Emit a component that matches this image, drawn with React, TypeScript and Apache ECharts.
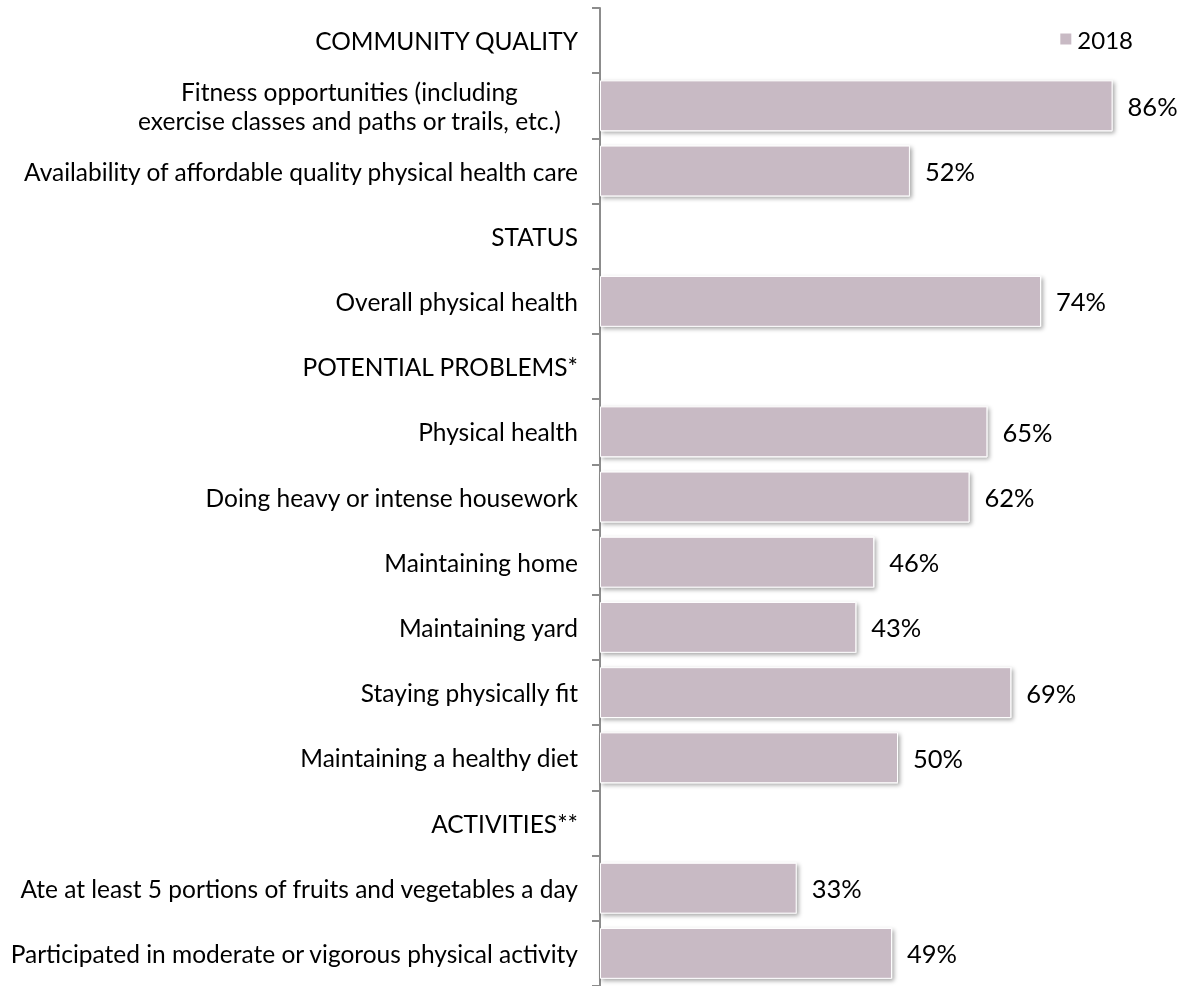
import React, { useEffect, useRef } from "react";
import * as echarts from "echarts";

const categories: string[] = [
  "COMMUNITY QUALITY",
  "Fitness opportunities (including\nexercise classes and paths or trails, etc.)",
  "Availability of affordable quality physical health care",
  "STATUS",
  "Overall physical health",
  "POTENTIAL PROBLEMS*",
  "Physical health",
  "Doing heavy or intense housework",
  "Maintaining home",
  "Maintaining yard",
  "Staying physically fit",
  "Maintaining a healthy diet",
  "ACTIVITIES**",
  "Ate at least 5 portions of fruits and vegetables a day",
  "Participated in moderate or vigorous physical activity",
];

const values2018: (number | null)[] = [
  null, 86, 52, null, 74, null, 65, 62, 46, 43, 69, 50, null, 33, 49,
];

const seriesName = "2018";
const FONT = "Lato, 'Open Sans', sans-serif";

export default function App() {
  const ref = useRef<HTMLDivElement>(null);
  useEffect(() => {
    if (!ref.current) return;
    const chart = echarts.init(ref.current, undefined, { renderer: "svg" });
    chart.setOption({
      animation: false,
      textStyle: { fontFamily: FONT },
      legend: {
        data: [seriesName],
        right: 58,
        top: 22,
        itemWidth: 13,
        itemHeight: 13,
        itemGap: 6,
        icon: "rect",
        textStyle: { fontSize: 24, color: "#000", fontFamily: FONT },
      },
      grid: { left: 600, right: -2, top: 8, bottom: -2, containLabel: false },
      xAxis: {
        type: "value",
        min: 0,
        max: 100,
        show: false,
      },
      yAxis: {
        type: "category",
        inverse: true,
        data: categories,
        axisLine: { show: true, lineStyle: { color: "#8c8c8c", width: 2 } },
        axisTick: { show: true, length: 8, lineStyle: { color: "#8c8c8c", width: 2 } },
        axisLabel: {
          color: "#000",
          fontSize: 24.5,
          margin: 22,
          lineHeight: 29,
          fontFamily: FONT,
          formatter: (v: string) => {
            if (v.indexOf("\n") < 0) return v;
            const [a, b] = v.split("\n");
            return "{a|" + a + "}\n{b|" + b + "}";
          },
          rich: {
            a: { fontSize: 24.5, lineHeight: 29, color: "#000", fontFamily: FONT, align: "center", padding: [0, 17, 0, 0] },
            b: { fontSize: 24.5, lineHeight: 29, color: "#000", fontFamily: FONT, align: "center", padding: [0, 17, 0, 0] },
          },
        },
        splitLine: { show: false },
      },
      series: [
        {
          name: seriesName,
          type: "bar",
          data: values2018,
          barCategoryGap: "22%",
          itemStyle: {
            color: "#c8bac4",
            borderColor: "#ffffff",
            borderWidth: 1,
            shadowColor: "rgba(0,0,0,0.35)",
            shadowBlur: 4,
            shadowOffsetX: 2,
            shadowOffsetY: 2,
          },
          label: {
            show: true,
            position: "right",
            distance: 15,
            formatter: (p: any) => (p.value == null ? "" : p.value + "%"),
            color: "#000",
            fontSize: 25.5,
            fontFamily: FONT,
          },
        },
      ],
    });
    return () => chart.dispose();
  }, []);
  return (
    <div
      ref={ref}
      style={{ position: "fixed", left: 0, top: 0, width: 1196, height: 986 }}
    />
  );
}
